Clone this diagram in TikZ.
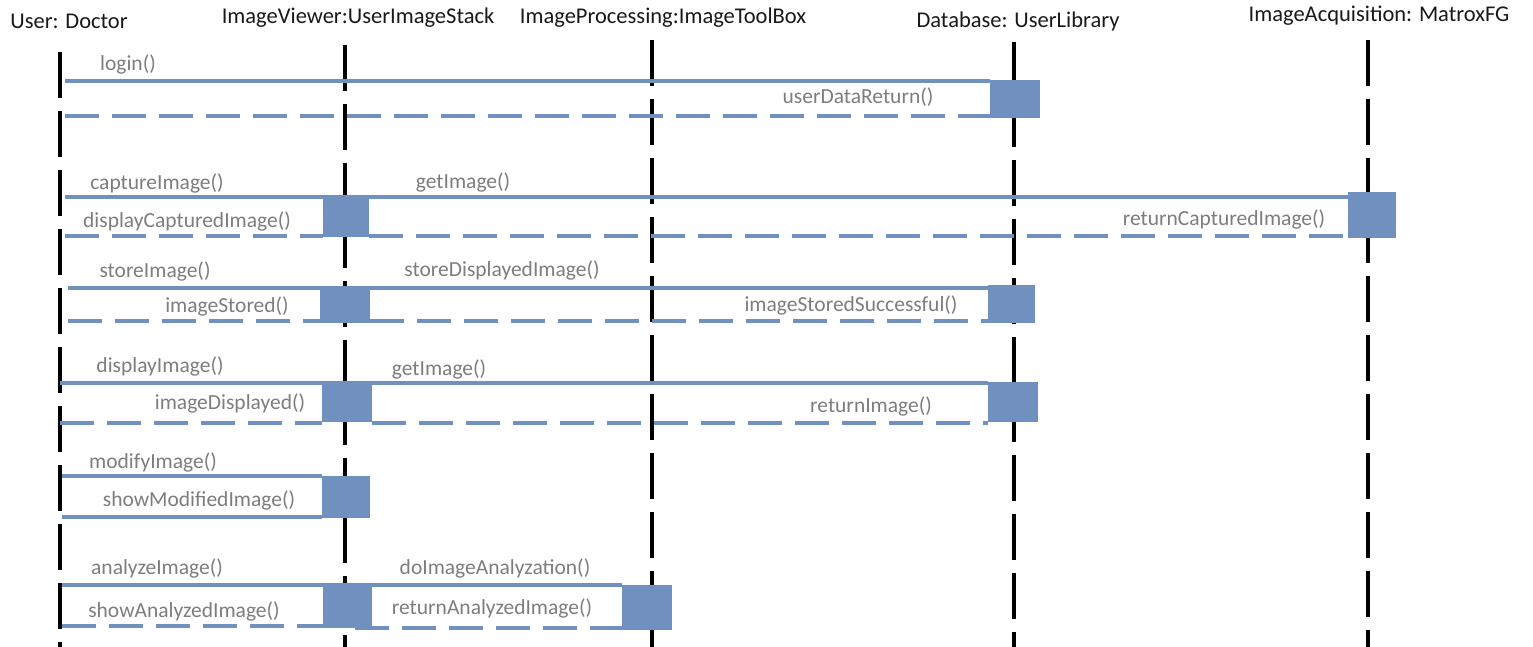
\documentclass[tikz,border=0pt]{standalone}
\usepackage{fontspec}
\setmainfont{Carlito}
\definecolor{msgblue}{RGB}{112,145,191}
\definecolor{lblgray}{RGB}{125,125,125}
\definecolor{hdr}{RGB}{25,25,25}
\begin{document}
\begin{tikzpicture}[x=1pt,y=-1pt,
 life/.style={line width=4pt, dash pattern=on 46pt off 13pt},
 msg/.style={draw=msgblue, line width=3.5pt},
 ret/.style={draw=msgblue, line width=3.5pt, dash pattern=on 34pt off 13pt},
 act/.style={fill=msgblue, inner sep=0pt, minimum width=50pt},
 lbl/.style={text=lblgray, font=\fontsize{21.5}{24}\selectfont, inner sep=0pt},
 hd/.style={text=hdr, font=\fontsize{22.5}{26}\selectfont, inner sep=0pt}]
\useasboundingbox (0,0) rectangle (1533,647);
% headers
\node[hd] (h1) at (69,21) {User: Doctor};
\node[hd] (h2) at (358,18) {ImageViewer:UserImageStack};
\node[hd] (h3) at (663,18) {ImageProcessing:ImageToolBox};
\node[hd] (h4) at (1018,22) {Database: UserLibrary};
\node[hd] (h5) at (1379,16) {ImageAcquisition: MatroxFG};
% lifelines
\coordinate (l1t) at (60,52);   \coordinate (l1b) at (60,647);
\coordinate (l2t) at (345,45);  \coordinate (l2b) at (345,647);
\coordinate (l3t) at (652,40);  \coordinate (l3b) at (652,647);
\coordinate (l4t) at (1014,42); \coordinate (l4b) at (1014,647);
\coordinate (l5t) at (1368,40); \coordinate (l5b) at (1368,647);
\draw[life] (l1t) -- (l1b);
\draw[life] (l2t) -- (l2b);
\draw[life] (l3t) -- (l3b);
\draw[life] (l4t) -- (l4b);
\draw[life] (l5t) -- (l5b);
% activation boxes (positions only)
\path (1015,99) node[act, minimum height=38pt] (db1) {};
\path (346,217) node[act, minimum width=46pt, minimum height=40pt] (iv2) {};
\path (1372,215) node[act, minimum width=48pt, minimum height=46pt] (acq2) {};
\path (345,306) node[act, minimum height=34pt] (iv3) {};
\path (1011.5,304) node[act, minimum width=47pt, minimum height=38pt] (db3) {};
\path (347,403.5) node[act, minimum height=37pt] (iv4) {};
\path (1013,402) node[act, minimum height=40pt] (db4) {};
\path (346,497) node[act, minimum width=48pt, minimum height=42pt] (iv5) {};
\path (347.5,607.5) node[act, minimum width=49pt, minimum height=41pt] (iv6) {};
\path (647,607.5) node[act, minimum height=45pt] (ip6) {};
% message start points on the Doctor lifeline
\coordinate (m1a) at (65,81);  \coordinate (m1b) at (65,116);
\coordinate (m2a) at (65,197); \coordinate (m2b) at (65,236);
\coordinate (m3a) at (68,288); \coordinate (m3b) at (68,321);
\coordinate (m4a) at (60,383); \coordinate (m4b) at (60,423);
\coordinate (m5a) at (62,476); \coordinate (m5b) at (62,517);
\coordinate (m6a) at (62,585); \coordinate (m6b) at (62,626);
\coordinate (m6c) at (355,628);
% messages
\draw[msg] (m1a) -- (m1a -| db1.west);
\draw[ret] (m1b) -- (m1b -| db1.west);
\draw[msg] (m2a) -- (m2a -| acq2.west);
\draw[ret] (m2b) -- (m2b -| iv2.west);
\draw[ret] (m2b -| iv2.east) -- (m2b -| acq2.west);
\draw[msg] (m3a) -- (m3a -| db3.west);
\draw[ret] (m3b) -- (m3b -| iv3.west);
\draw[ret] (m3b -| iv3.east) -- (m3b -| db3.west);
\draw[msg] (m4a) -- (m4a -| db4.west);
\draw[ret] (m4b) -- (m4b -| iv4.west);
\draw[ret] (m4b -| iv4.east) -- (m4b -| db4.west);
\draw[msg] (m5a) -- (m5a -| iv5.west);
\draw[msg] (m5b) -- (m5b -| iv5.west);
\draw[msg] (m6a) -- (m6a -| ip6.west);
\draw[ret] (m6b) -- (m6b -| iv6.west);
\draw[ret] (m6c) -- (m6c -| ip6.west);
% redraw boxes on top
\foreach \b in {db1,iv2,acq2,iv3,db3,iv4,db4,iv5,iv6,ip6}
  \fill[msgblue] (\b.north west) rectangle (\b.south east);
% labels
\node[lbl] (t1) at (128,64) {login()};
\node[lbl] (t2) at (858,97) {userDataReturn()};
\node[lbl] (t3) at (157,183) {captureImage()};
\node[lbl] (t4) at (463,182) {getImage()};
\node[lbl] (t5) at (187,221) {displayCapturedImage()};
\node[lbl] (t6) at (1224,219) {returnCapturedImage()};
\node[lbl] (t7) at (155,271) {storeImage()};
\node[lbl] (t8) at (502,270) {storeDisplayedImage()};
\node[lbl] (t9) at (227,306) {imageStored()};
\node[lbl] (t10) at (851,305) {imageStoredSuccessful()};
\node[lbl] (t11) at (160,366) {displayImage()};
\node[lbl] (t12) at (439,369) {getImage()};
\node[lbl] (t13) at (230,403) {imageDisplayed()};
\node[lbl] (t14) at (871,406) {returnImage()};
\node[lbl] (t15) at (153,462) {modifyImage()};
\node[lbl] (t16) at (199,500) {showModifiedImage()};
\node[lbl] (t17) at (157,568) {analyzeImage()};
\node[lbl] (t18) at (495,568) {doImageAnalyzation()};
\node[lbl] (t19) at (184,611) {showAnalyzedImage()};
\node[lbl] (t20) at (492,608) {returnAnalyzedImage()};
\end{tikzpicture}
\end{document}
